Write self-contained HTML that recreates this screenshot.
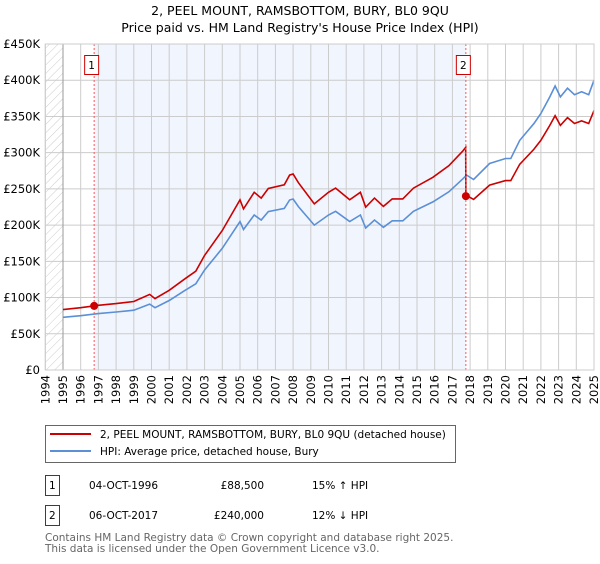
<!DOCTYPE html>
<html><head><meta charset="utf-8"><style>
body{margin:0;background:#fff;font-family:"DejaVu Sans","Liberation Sans",sans-serif;}
svg text{font-family:"DejaVu Sans","Liberation Sans",sans-serif;}
</style></head><body>
<svg id="chart" width="600" height="560" viewBox="0 0 600 560">
<defs><pattern id="hatch" width="6" height="6" patternUnits="userSpaceOnUse" patternTransform="rotate(45)"><rect width="6" height="6" fill="#fff"/><line x1="0" y1="0" x2="0" y2="6" stroke="#ccc" stroke-width="1"/></pattern></defs>
<text x="300" y="15" text-anchor="middle" font-size="12.5" fill="#000">2, PEEL MOUNT, RAMSBOTTOM, BURY, BL0 9QU</text>
<text x="300" y="32" text-anchor="middle" font-size="12.5" fill="#000">Price paid vs. HM Land Registry's House Price Index (HPI)</text>
<g id="plot"></g>
<g>
<rect x="45.5" y="425.5" width="410" height="37" fill="#fff" stroke="#666"/>
<line x1="50" y1="434" x2="91" y2="434" stroke="#cc0000" stroke-width="2"/>
<text x="100" y="438" font-size="10.5">2, PEEL MOUNT, RAMSBOTTOM, BURY, BL0 9QU (detached house)</text>
<line x1="50" y1="451" x2="91" y2="451" stroke="#5b8fd6" stroke-width="2"/>
<text x="100" y="455" font-size="10.5">HPI: Average price, detached house, Bury</text>
</g>
<g font-size="10.5">
<rect x="45.5" y="475.5" width="14" height="20" fill="#fff" stroke="#cc0000"/>
<text x="49" y="489">1</text><text x="89" y="489">04-OCT-1996</text><text x="264" y="489" text-anchor="end">£88,500</text><text x="312" y="489">15% ↑ HPI</text>
</g>
<g font-size="10.5">
<rect x="45.5" y="505.5" width="14" height="20" fill="#fff" stroke="#cc0000"/>
<text x="49" y="519">2</text><text x="89" y="519">06-OCT-2017</text><text x="264" y="519" text-anchor="end">£240,000</text><text x="312" y="519">12% ↓ HPI</text>
</g>
<text x="45" y="541" font-size="10.5" fill="#666">Contains HM Land Registry data © Crown copyright and database right 2025.</text>
<text x="45" y="552" font-size="10.5" fill="#666">This data is licensed under the Open Government Licence v3.0.</text>
</svg>
<script>
const hpiYears=[1995,1996,1997,1998,1999,1999.9,2000.2,2001,2001.9,2002.5,2003,2004,2005,2005.2,2005.8,2006.2,2006.6,2007.5,2007.8,2008,2008.3,2009.2,2010,2010.4,2011.2,2011.8,2012.1,2012.6,2013.1,2013.6,2014.2,2014.8,2015.9,2016.8,2017.6,2017.8,2018.2,2019.1,2020,2020.3,2020.8,2021.6,2022,2022.5,2022.8,2023.1,2023.5,2023.9,2024.3,2024.7,2025];
const hpiValues=[72.7,75,77.9,80,82.5,91,86,96,110,119,138,168,205,194,214,207,218.6,223,234.7,236,225.5,200,214,219,205,214,196,207,197,206,206,219,232,246,264,269,263,285,292,292,317,340,354,377,392,377,389,380,384,380,400];
const saleYears=[1996.76,2017.76];
const salePrices=[88.5,240];
const yTicks=[0,50,100,150,200,250,300,350,400,450];
const xTickYears=[1994,1995,1996,1997,1998,1999,2000,2001,2002,2003,2004,2005,2006,2007,2008,2009,2010,2011,2012,2013,2014,2015,2016,2017,2018,2019,2020,2021,2022,2023,2024,2025];
const X0=45.3,X1=594,Y0=370,Y1=44,minY=1994,maxY=2025;
const xs=y=>X0+(y-minY)/(maxY-minY)*(X1-X0);
const ys=v=>Y0-v/450*(Y0-Y1);
const NS="http://www.w3.org/2000/svg";
const g=document.getElementById('plot');
function mk(t,a,p){const e=document.createElementNS(NS,t);for(const k in a)e.setAttribute(k,a[k]);(p||g).appendChild(e);return e;}
function hpiAt(y){for(let i=0;i<hpiYears.length-1;i++){if(y>=hpiYears[i]&&y<=hpiYears[i+1]){const t=(y-hpiYears[i])/(hpiYears[i+1]-hpiYears[i]);return hpiValues[i]+t*(hpiValues[i+1]-hpiValues[i]);}}return hpiValues[hpiValues.length-1];}
let e;
e=mk('rect',{x:X0,y:Y1,width:X1-X0,height:Y0-Y1,fill:'#fff'});


e=mk('rect',{x:X0,y:Y1,width:xs(1995)-X0,height:Y0-Y1,fill:'url(#hatch)'});


e=mk('rect',{x:xs(saleYears[0]),y:Y1,width:xs(saleYears[1])-xs(saleYears[0]),height:Y0-Y1,fill:'#eef2fc',opacity:0.8});


xTickYears.forEach(yr=>{
 e=mk('line',{x1:xs(yr),x2:xs(yr),y1:Y1,y2:Y0,stroke:'#ccc','stroke-width':1});
 
 
 const x=xs(yr)+4;
 e=mk('text',{x:x,y:375,transform:`rotate(-90 ${x} 375)`,'text-anchor':'end','font-size':'11.5',fill:'#000'});
 e.textContent=yr;
 
 
});
yTicks.forEach(v=>{
 e=mk('line',{x1:X0,x2:X1,y1:ys(v),y2:ys(v),stroke:'#ccc','stroke-width':1});
 
 
 e=mk('text',{x:40,y:ys(v)+4,'text-anchor':'end','font-size':'11.5',fill:'#000'});
 e.textContent=v===0?'£0':'£'+v+'K';
 
 
});
e=mk('line',{x1:xs(1995),x2:xs(1995),y1:Y1,y2:Y0,stroke:'#999'});


// HPI line
let d=hpiYears.map((y,i)=>(i?'L':'M')+xs(y).toFixed(1)+','+ys(hpiValues[i]).toFixed(1)).join('');
e=mk('path',{d:d,fill:'none',stroke:'#5b8fd6','stroke-width':1.6});


// property line: HPI scaled by last sale
const r0=salePrices[0]/hpiAt(saleYears[0]),r1=salePrices[1]/hpiAt(saleYears[1]);
let pts=[];
hpiYears.forEach((y,i)=>{if(y<saleYears[1])pts.push([y,hpiValues[i]*r0]);});
pts.push([saleYears[1]-0.01,hpiAt(saleYears[1])*r0]);
pts.push([saleYears[1],salePrices[1]]);
hpiYears.forEach((y,i)=>{if(y>saleYears[1])pts.push([y,hpiValues[i]*r1]);});
d=pts.map((p,i)=>(i?'L':'M')+xs(p[0]).toFixed(1)+','+ys(p[1]).toFixed(1)).join('');
e=mk('path',{d:d,fill:'none',stroke:'#cc0000','stroke-width':1.6});


saleYears.forEach((y,i)=>{
 e=mk('line',{x1:xs(y),x2:xs(y),y1:Y1,y2:Y0,stroke:'#ff5555','stroke-width':1,'stroke-dasharray':'2,2'});
 
 
 e=mk('circle',{cx:xs(y),cy:ys(salePrices[i]),r:4,fill:'#cc0000'});
 
 
 e=mk('rect',{x:xs(y)-9.5,y:55.5,width:14,height:19,fill:'#fff',stroke:'#cc0000'});
 
 
 e=mk('text',{x:xs(y)-2.5,y:69,'text-anchor':'middle','font-size':'10.5'});
 e.textContent=String(i+1);
 
 
});
e=mk('rect',{x:X0,y:Y1,width:X1-X0,height:Y0-Y1,fill:'none',stroke:'#ccc'});


</script>
</body></html>
